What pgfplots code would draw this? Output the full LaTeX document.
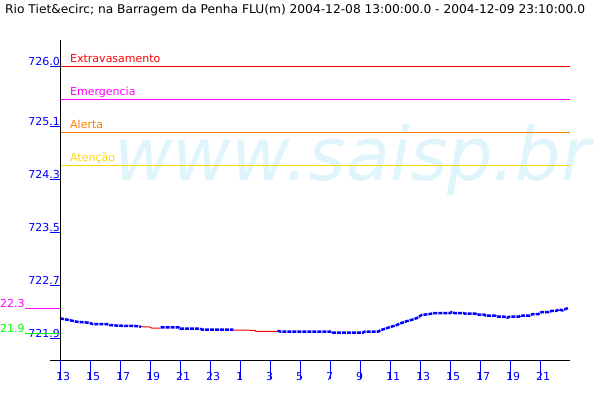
\documentclass[border=0pt]{standalone}
\usepackage{fontspec}
\setmainfont{DejaVu Sans}
\usepackage{pgfplots}
\pgfplotsset{compat=1.18}

\definecolor{dblue}{RGB}{0,0,255}
\definecolor{lred}{RGB}{255,0,0}
\definecolor{lmag}{RGB}{255,0,255}
\definecolor{lorange}{RGB}{255,128,0}
\definecolor{lyellow}{RGB}{255,215,0}
\definecolor{lgreen}{RGB}{0,255,0}
\definecolor{wm}{RGB}{224,244,252}

% x tick: position in pt, label
\newcommand{\xt}[2]{%
  \draw[dblue, line width=1pt] (#1pt,40pt) -- (#1pt,21pt);
  \node[dblue, anchor=base west, inner sep=0pt] at ([xshift=-4pt]#1pt,20pt) {#2};}
% y tick: position in pt, label
\newcommand{\yt}[2]{%
  \draw[dblue, line width=1pt] (50pt,#1pt) -- (60pt,#1pt);
  \node[dblue, anchor=base east, inner sep=0pt] at (60pt,#1pt+1pt) {#2};}
% reference line
\newcommand{\refl}[3]{%
  \draw[#2, line width=1pt] (60pt,#1pt) -- (570pt,#1pt);
  \node[#2, anchor=base west, inner sep=0pt] at (70pt,#1pt+4pt) {#3};}

\begin{document}
\fontsize{11pt}{13pt}\selectfont
\begin{tikzpicture}
\useasboundingbox (0pt,0pt) rectangle (600pt,400pt);
\clip (0pt,0pt) rectangle (600pt,400pt);
\fill[white] (0pt,0pt) rectangle (600pt,400pt);

% watermark
\node[anchor=base west, inner sep=0pt, text=wm] at (114pt,220pt)
  {\scalebox{0.97}[1]{\fontsize{74pt}{80pt}\selectfont\itshape www.saisp.br}};

% title
\node[anchor=base west, inner sep=0pt] at (5pt,386pt)
  {\scalebox{1.02}[1]{\fontsize{12pt}{14pt}\selectfont Rio Tiet\&ecirc; na Barragem da Penha FLU(m) 2004-12-08 13:00:00.0 - 2004-12-09 23:10:00.0}};

% reference lines: 726.0, 725.5, 725.0, 724.5
\refl{333.66}{lred}{Extravasamento}
\refl{300.50}{lmag}{Emergencia}
\refl{267.33}{lorange}{Alerta}
\refl{234.17}{lyellow}{Atenção}

\begin{axis}[
  at={(60pt,40pt)}, anchor=south west,
  scale only axis, width=510pt, height=320pt,
  xmin=0, xmax=34, ymin=721.5727, ymax=726.3967,
  hide axis, clip=false]
\addplot[dblue, line width=2.5pt, dash pattern=on 4pt off 1pt] coordinates {
(0,722.20) (0.5,722.18) (1.1,722.15) (1.9,722.135) (2.2,722.115) (3.1,722.115)
(3.3,722.10) (3.9,722.09) (5.1,722.085) (5.4,722.075)};
\addplot[lred, line width=1pt] coordinates {
(5.4,722.075) (6.0,722.07) (6.1,722.055) (6.7,722.055)};
\addplot[dblue, line width=2.5pt, dash pattern=on 4pt off 1pt] coordinates {
(6.7,722.065) (7.9,722.065) (8.0,722.045) (9.3,722.045) (9.5,722.03) (11.55,722.03)};
\addplot[lred, line width=1pt] coordinates {
(11.55,722.025) (13.0,722.02) (13.05,722.005) (14.5,722.005)};
\addplot[dblue, line width=2.5pt, dash pattern=on 4pt off 1pt] coordinates {
(14.5,722.015) (14.7,722.0) (18.1,722.0) (18.2,721.985) (20.2,721.985) (20.3,722.0)
(21.2,722.0) (21.4,722.025) (21.7,722.045) (22.0,722.07) (22.4,722.095) (22.7,722.125)
(23.0,722.15) (23.4,722.175) (23.8,722.205) (24.1,722.25) (24.6,722.265) (25.0,722.28)
(26.0,722.28) (26.1,722.295) (26.3,722.28) (26.9,722.28) (27.0,722.27) (27.7,722.27)
(27.8,722.255) (28.3,722.255) (28.4,722.24) (29.0,722.24) (29.1,722.225) (29.6,722.225)
(29.8,722.21) (30.0,722.225) (30.6,722.225) (30.7,722.24) (31.3,722.24) (31.5,722.265)
(31.9,722.265) (32.1,722.295) (32.6,722.295) (32.8,722.315) (33.1,722.315) (33.25,722.335)
(33.5,722.32) (33.7,722.34) (33.9,722.36)};
\end{axis}

% axes
\draw[black, line width=1pt] (60pt,40pt) -- (60pt,360pt);
\draw[black, line width=1pt] (50pt,40pt) -- (570pt,40pt);

% y ticks
\yt{333.66}{726.0}
\yt{273.97}{725.1}
\yt{220.90}{724.3}
\yt{167.84}{723.5}
\yt{114.77}{722.7}
\yt{61.71}{721.9}

% x ticks
\xt{60}{13}
\xt{90}{15}
\xt{120}{17}
\xt{150}{19}
\xt{180}{21}
\xt{210}{23}
\xt{240}{1}
\xt{270}{3}
\xt{300}{5}
\xt{330}{7}
\xt{360}{9}
\xt{390}{11}
\xt{420}{13}
\xt{450}{15}
\xt{480}{17}
\xt{510}{19}
\xt{540}{21}

% left markers (722.35 and 721.97)
\draw[lmag, line width=1pt] (25pt,91.69pt) -- (60pt,91.69pt);
\node[lmag, anchor=base west, inner sep=0pt] at (0pt,92.69pt) {22.3};
\draw[lgreen, line width=1pt] (25pt,66.68pt) -- (60pt,66.68pt);
\node[lgreen, anchor=base west, inner sep=0pt] at (0pt,67.68pt) {21.9};
\end{tikzpicture}
\end{document}
